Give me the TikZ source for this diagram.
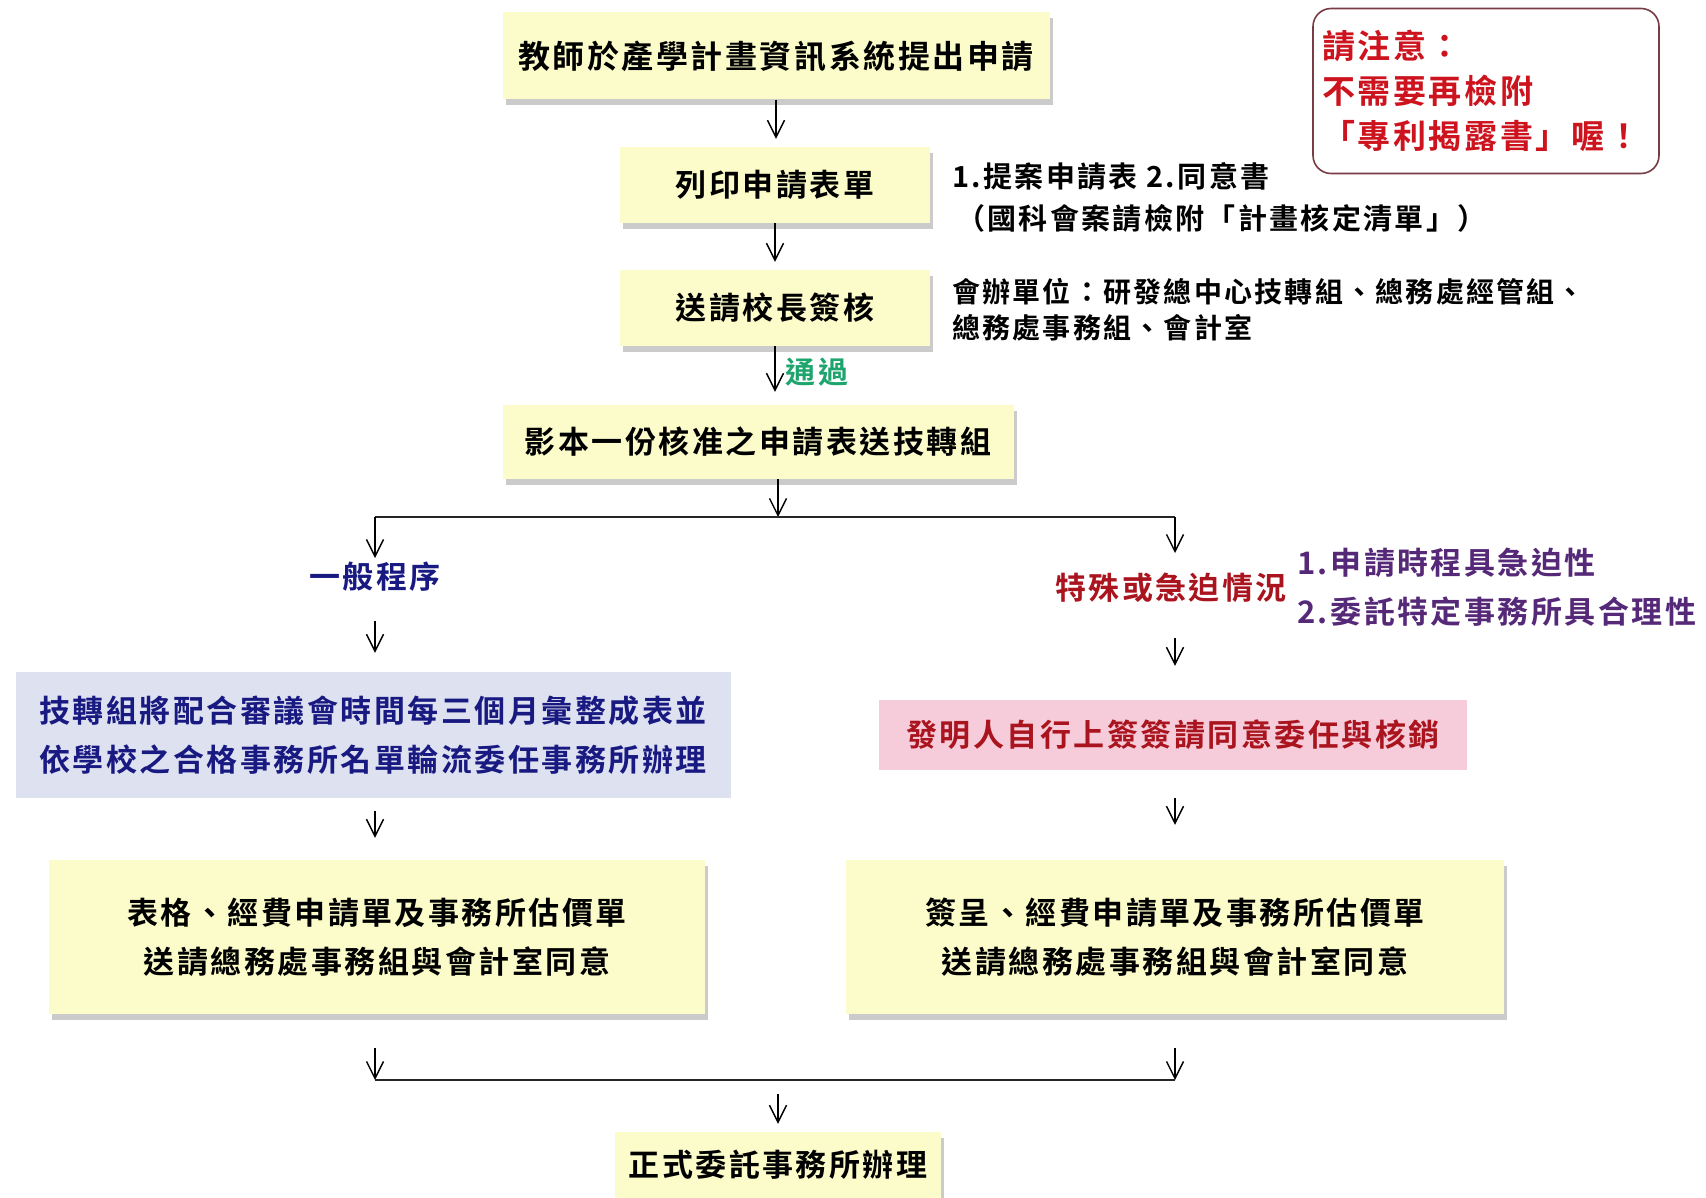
\documentclass[tikz,border=0pt]{standalone}
\usepackage{fontspec}
\usepackage[x11names]{xcolor}
\usetikzlibrary{arrows.meta,shadows}
\newfontfamily\cjk[LetterSpace=8,BoldFont={* Bold}]{Noto Sans CJK TC}

\definecolor{boxyellow}{RGB}{252,252,202}
\definecolor{boxblue}{RGB}{222,226,240}
\definecolor{boxpink}{RGB}{246,204,218}
\definecolor{textblue}{RGB}{25,25,130}
\definecolor{textred}{RGB}{170,20,30}
\definecolor{textpurple}{RGB}{85,40,120}
\definecolor{textgreen}{RGB}{30,165,110}
\definecolor{noteborder}{RGB}{120,60,70}
\definecolor{notered}{RGB}{205,20,30}

\tikzset{
  stepbox/.style={fill=boxyellow, drop shadow={shadow xshift=3pt,shadow yshift=-6pt,fill=black!40},
    inner sep=0pt, align=center, font=\cjk\bfseries\fontsize{31}{49}\selectfont},
  bluebox/.style={fill=boxblue, inner sep=0pt, align=center, text=textblue,
    font=\cjk\bfseries\fontsize{31}{49}\selectfont},
  pinkbox/.style={fill=boxpink, inner sep=0pt, align=center, text=textred,
    font=\cjk\bfseries\fontsize{31}{49}\selectfont},
  sidenote/.style={anchor=west, align=left, inner sep=0pt, font=\cjk\bfseries\fontsize{29}{40}\selectfont},
  caseword/.style={inner sep=0pt, font=\cjk\bfseries\fontsize{31}{40}\selectfont},
  flow/.style={line width=1.4pt, -{Straight Barb[length=17pt,width=17pt]}},
  rail/.style={line width=2.6pt, black!85},
}

\begin{document}
\begin{tikzpicture}[x=1pt,y=-1pt]
      \useasboundingbox (0,0) rectangle (1706,1198);
      \fill[white] (0,0) rectangle (1706,1198);
      %Main column
      \node[stepbox, minimum width=547pt, minimum height=87pt, font=\cjk\bfseries\fontsize{32}{40}\selectfont]
        (apply) at (776,56) {教師於產學計畫資訊系統提出申請};
      \node[stepbox, minimum width=310pt, minimum height=76pt] (print) at (775,185) {列印申請表單};
      \node[stepbox, minimum width=310pt, minimum height=76pt] (sign) at (775,308) {送請校長簽核};
      \node[stepbox, minimum width=511pt, minimum height=74pt] (copy) at (758,442) {影本一份核准之申請表送技轉組};
      %Notes beside the column
      \node[sidenote] (printnote) at (952,197) {1.提案申請表 2.同意書\\[2pt]\hspace{4pt}（國科會案請檢附「計畫核定清單」）};
      \node[sidenote, font=\cjk\bfseries\fontsize{28}{36}\selectfont] (signnote) at (952,310)
        {會辦單位：研發總中心技轉組、總務處經管組、\\總務處事務組、會計室};
      \node[draw=noteborder, line width=1.6pt, rounded corners=18pt, minimum width=346pt, minimum height=165pt,
        inner xsep=9pt, text width=328pt, align=left, text=notered, font=\cjk\bfseries\fontsize{33}{45}\selectfont]
        (warn) at (1486,91) {請注意：\\不需要再檢附\\「專利揭露書」喔！};
      %Arrows down the column
      \draw[flow, shorten >=8pt] (apply.south) -- (apply.south |- print.north);
      \draw[flow, shorten >=8pt] (print.south) -- (sign.north);
      \draw[flow, shorten >=13pt] (sign.south) -- (sign.south |- copy.north)
        node[pos=0.45, right=10pt, caseword, text=textgreen, font=\cjk\bfseries\fontsize{30}{36}\selectfont] (pass) {通過};
      %Branch
      \coordinate (split) at (778,517);
      \coordinate (splitL) at (375,517);
      \coordinate (splitR) at (1175,517);
      \draw[flow] (copy.south -| split) -- (split);
      \draw[rail] (splitL) -- (splitR);
      %Left: normal procedure
      \node[caseword, text=textblue] (normal) at (375,577) {一般程序};
      \node[bluebox, minimum width=715pt, minimum height=126pt] (rota) at (373,735)
        {技轉組將配合審議會時間每三個月彙整成表並\\依學校之合格事務所名單輪流委任事務所辦理};
      \node[stepbox, minimum width=656pt, minimum height=154pt] (formL) at (377,937)
        {表格、經費申請單及事務所估價單\\送請總務處事務組與會計室同意};
      \draw[flow, shorten >=4pt] (splitL) -- (normal.north -| splitL);
      \draw[flow, shorten <=29pt, shorten >=19pt] (normal.south -| splitL) -- (rota.north -| splitL);
      \draw[flow, shorten <=13pt, shorten >=22pt] (rota.south -| splitL) -- (formL.north -| splitL);
      %Right: special or urgent case
      \node[caseword, text=textred] (urgent) at (1171,588) {特殊或急迫情況};
      \node[sidenote, text=textpurple, font=\cjk\bfseries\fontsize{31}{49}\selectfont] (reason) at (1297,587)
        {1.申請時程具急迫性\\2.委託特定事務所具合理性};
      \node[pinkbox, minimum width=588pt, minimum height=70pt] (self) at (1173,735) {發明人自行上簽簽請同意委任與核銷};
      \node[stepbox, minimum width=658pt, minimum height=154pt] (formR) at (1175,937)
        {簽呈、經費申請單及事務所估價單\\送請總務處事務組與會計室同意};
      \draw[flow, shorten >=20pt] (splitR) -- (urgent.north -| splitR);
      \draw[flow, shorten <=35pt, shorten >=34pt] (urgent.south -| splitR) -- (self.north -| splitR);
      \draw[flow, shorten <=28pt, shorten >=35pt] (self.south -| splitR) -- (formR.north -| splitR);
      %Join
      \coordinate (join) at (778,1080);
      \coordinate (joinL) at (375,1080);
      \coordinate (joinR) at (1175,1080);
      \draw[flow, shorten <=34pt] (formL.south -| joinL) -- (joinL);
      \draw[flow, shorten <=34pt] (formR.south -| joinR) -- (joinR);
      \draw[rail] (joinL) -- (joinR);
      \node[stepbox, minimum width=326pt, minimum height=66pt] (final) at (778,1165) {正式委託事務所辦理};
      \draw[flow, shorten <=14pt, shorten >=8pt] (join) -- (final.north);
\end{tikzpicture}
\end{document}
